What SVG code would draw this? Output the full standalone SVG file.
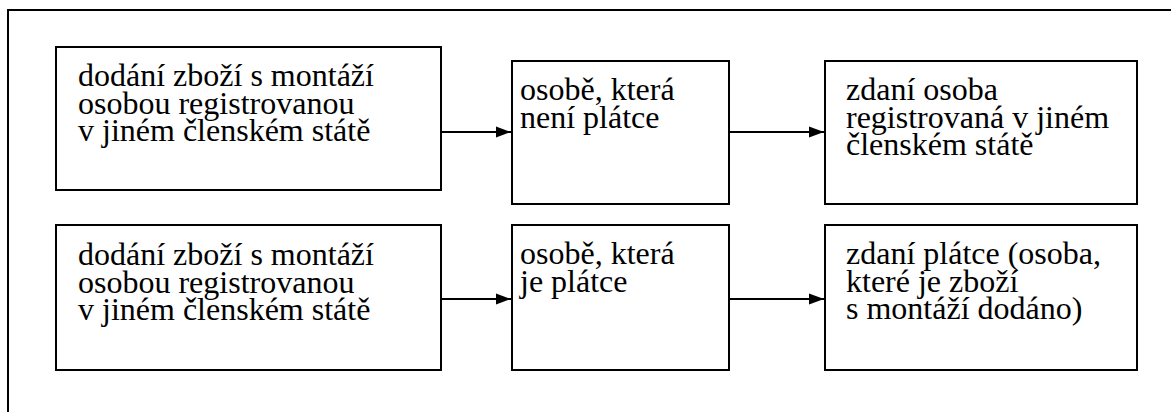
<svg xmlns="http://www.w3.org/2000/svg" width="1171" height="412" viewBox="0 0 1171 412">
  <style>
    .box { fill: #ffffff; stroke: #000000; stroke-width: 2; }
    .frame { fill: none; stroke: #000000; stroke-width: 2; }
    .lbl { font-family: 'Liberation Serif', 'Times New Roman', serif; font-size: 32px; fill: #000000; }
    .conn { stroke: #000000; stroke-width: 2; fill: none; }
  </style>
  <defs>
    <marker id="arrow" markerWidth="7.5" markerHeight="5.6" refX="7.5" refY="2.8" orient="auto" markerUnits="strokeWidth">
      <path d="M0,0 L7.5,2.8 L0,5.6 Z" fill="#000000"/>
    </marker>
  </defs>
  <rect width="1171" height="412" fill="#ffffff"/>
  <!-- outer frame: only the top and left edges fall inside the canvas -->
  <path class="frame" d="M8,413 L8,10 L1172,10"/>

  <!-- row 1 -->
  <g id="supplier1">
    <rect class="box" x="56" y="47" width="385" height="143"/>
    <text class="lbl"><tspan x="78" y="86">dodání zboží s montáží</tspan><tspan x="78" y="113.7">osobou registrovanou</tspan><tspan x="78" y="141.4">v jiném členském státě</tspan></text>
  </g>
  <g id="recipient1">
    <rect class="box" x="512" y="61" width="217" height="143"/>
    <text class="lbl"><tspan x="520" y="100">osobě, která</tspan><tspan x="520" y="127.7">není plátce</tspan></text>
  </g>
  <g id="taxable1">
    <rect class="box" x="825" y="61" width="312" height="143"/>
    <text class="lbl"><tspan x="846" y="100">zdaní osoba</tspan><tspan x="846" y="127.7">registrovaná v jiném</tspan><tspan x="846" y="155.4">členském státě</tspan></text>
  </g>

  <!-- row 2 -->
  <g id="supplier2">
    <rect class="box" x="56" y="225" width="385" height="145"/>
    <text class="lbl"><tspan x="78" y="265">dodání zboží s montáží</tspan><tspan x="78" y="292.7">osobou registrovanou</tspan><tspan x="78" y="320.4">v jiném členském státě</tspan></text>
  </g>
  <g id="recipient2">
    <rect class="box" x="512" y="225" width="217" height="145"/>
    <text class="lbl"><tspan x="520" y="264">osobě, která</tspan><tspan x="520" y="291.7">je plátce</tspan></text>
  </g>
  <g id="taxable2">
    <rect class="box" x="825" y="225" width="312" height="145"/>
    <text class="lbl"><tspan x="846" y="264">zdaní plátce (osoba,</tspan><tspan x="846" y="291.7">které je zboží</tspan><tspan x="846" y="319.4">s montáží dodáno)</tspan></text>
  </g>

  <g id="connectors">
    <line class="conn" x1="441" y1="132" x2="511" y2="132" marker-end="url(#arrow)"/>
    <line class="conn" x1="729" y1="132" x2="824" y2="132" marker-end="url(#arrow)"/>
    <line class="conn" x1="441" y1="299" x2="511" y2="299" marker-end="url(#arrow)"/>
    <line class="conn" x1="729" y1="299" x2="824" y2="299" marker-end="url(#arrow)"/>
  </g>
</svg>
